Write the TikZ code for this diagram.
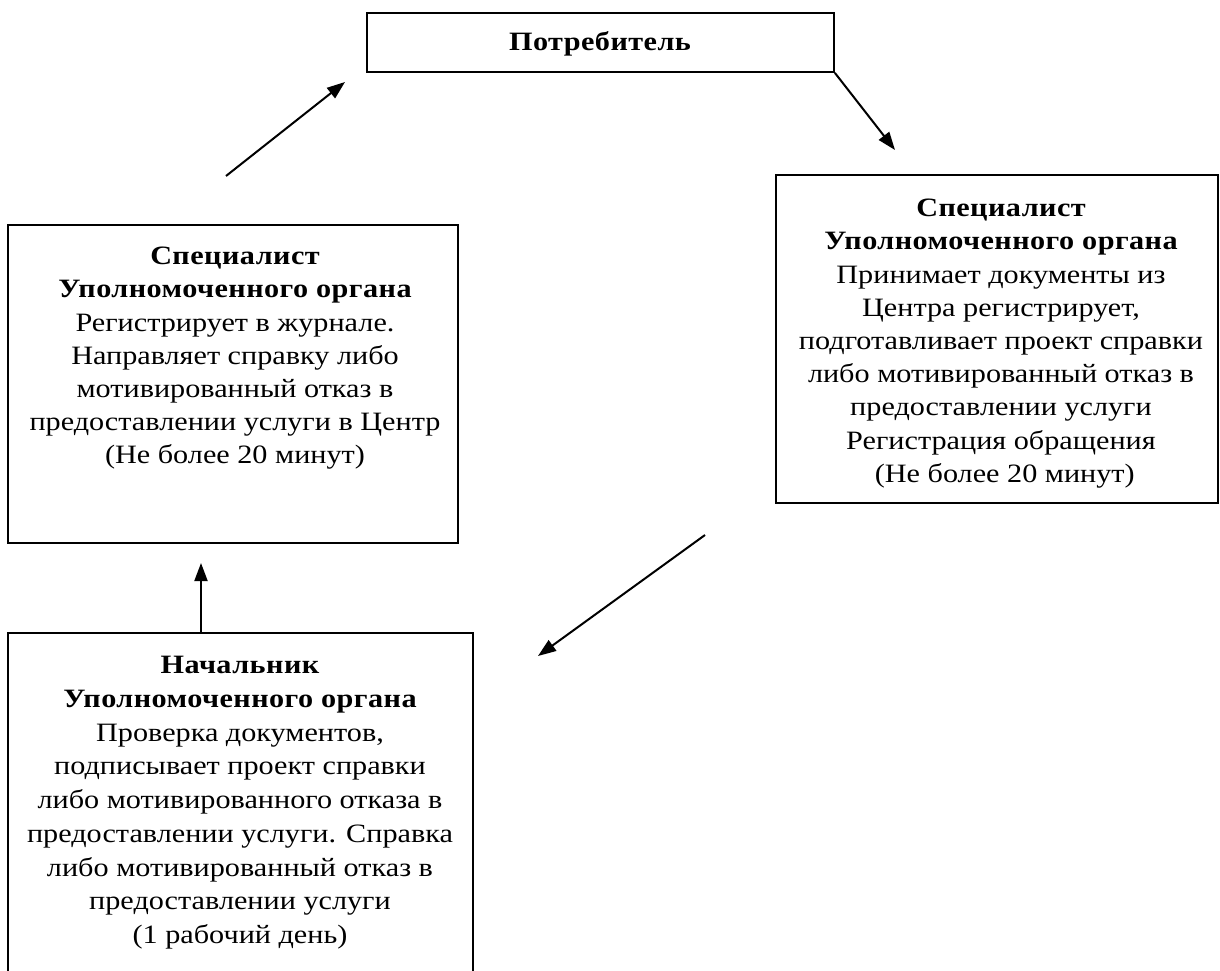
\documentclass[tikz,border=0pt]{standalone}
\usepackage{fontspec}
\setmainfont{Liberation Serif}[FakeStretch=1.14]
\usetikzlibrary{arrows.meta}
\newcommand\hd[1]{{\bfseries\addfontfeatures{LetterSpace=1.7}#1}}
\begin{document}
\begin{tikzpicture}[x=1pt,y=-1pt,
  box/.style={draw=black,line width=1.7pt,rectangle,inner sep=0pt},
  txt/.style={align=center,inner sep=0pt,font=\fontsize{26.5}{33.2}\selectfont},
  arr/.style={line width=2pt,-{Triangle[length=18pt,width=13pt]}}]
\useasboundingbox (0,0) rectangle (1220,971);
% boxes
\node[box,minimum width=467pt,minimum height=59pt] (top) at (600.5,42.5) {};
\node[box,minimum width=450pt,minimum height=318pt] (lb) at (233,384) {};
\node[box,minimum width=442pt,minimum height=328pt] (rb) at (997,339) {};
\node[box,minimum width=465pt,minimum height=367pt] (bb) at (240.5,816.5) {};
% texts
\node[txt] (topt) at (600,44) {\hd{Потребитель}};
\node[txt,anchor=north] (lbt) at (235,247) {\hd{Специалист}\\\hd{Уполномоченного органа}\\
Регистрирует в журнале.\\Направляет справку либо\\мотивированный отказ в\\предоставлении услуги в Центр\\(Не более 20 минут)};
\node[txt,anchor=north] (rbt) at (1001,199) {\hd{Специалист}\\\hd{Уполномоченного органа}\\
Принимает документы из\\Центра регистрирует,\\подготавливает проект справки\\либо мотивированный отказ в\\предоставлении услуги\\Регистрация обращения\\\ (Не более 20 минут)};
\node[txt,anchor=north,font=\fontsize{26.5}{33.75}\selectfont] (bbt) at (240,656) {\hd{Начальник}\\\hd{Уполномоченного органа}\\
Проверка документов,\\подписывает проект справки\\либо мотивированного отказа в\\предоставлении услуги. Справка\\либо мотивированный отказ в\\предоставлении услуги\\(1 рабочий день)};
% connector ends
\coordinate (a1s) at (226,176);
\coordinate (a1e) at (345,82);
\coordinate (a3s) at (705,535);
\coordinate (a3e) at (538,656);
\coordinate (a2e) at (895,150);
\coordinate (a4s) at (201,633);
\coordinate (a4e) at (201,563);
\draw[arr] (a1s) -- (a1e);
\draw[arr] (top.south east) -- (a2e);
\draw[arr] (a3s) -- (a3e);
\draw[arr] (a4s) -- (a4e);
\end{tikzpicture}
\end{document}
